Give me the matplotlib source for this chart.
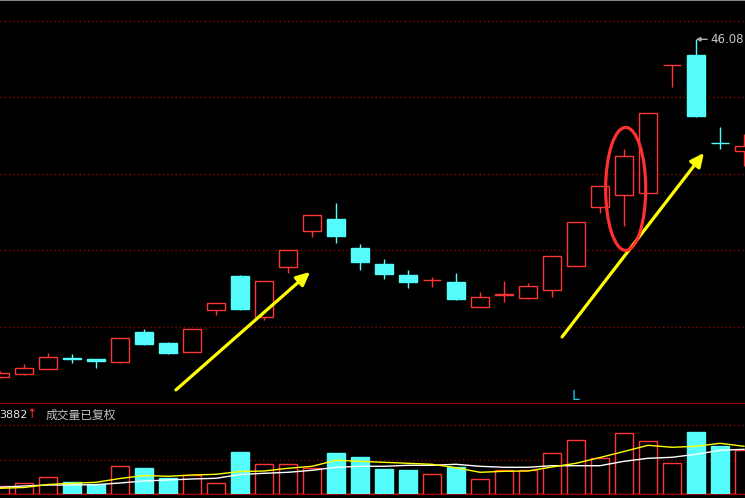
import matplotlib
matplotlib.use("Agg")
import matplotlib.pyplot as plt
from matplotlib.patches import Ellipse
from matplotlib.lines import Line2D
import numpy as np

# ---------------- data ----------------
opens  = [29.21, 29.36, 29.61, 30.13, 30.10, 29.96, 31.45, 30.90, 30.46, 32.56, 34.25, 32.21,
          34.71, 36.51, 37.10, 35.65, 34.85, 34.30, 34.02, 33.95, 32.71, 33.32, 33.16, 33.53,
          34.73, 37.71, 38.31, 38.41, 44.77, 45.30, 40.89, 40.51]
closes = [29.38, 29.63, 30.18, 30.12, 30.01, 31.13, 30.86, 30.41, 31.58, 32.88, 32.60, 33.99,
          35.53, 37.28, 36.25, 34.94, 34.35, 33.94, 34.03, 33.11, 33.18, 33.33, 33.73, 35.23,
          36.93, 38.73, 40.23, 42.38, 44.78, 42.25, 40.88, 40.74]
highs  = [29.50, 29.85, 30.40, 30.35, 30.12, 31.15, 31.60, 30.95, 31.58, 32.88, 34.28, 33.99,
          35.53, 37.28, 37.90, 35.85, 35.10, 34.55, 34.20, 34.40, 33.45, 34.00, 33.90, 35.23,
          36.93, 38.73, 40.59, 42.38, 44.78, 46.08, 41.68, 41.35]
lows   = [29.15, 29.30, 29.60, 29.91, 29.66, 29.91, 30.81, 30.36, 30.46, 32.31, 32.55, 32.05,
          34.41, 36.21, 35.91, 34.56, 34.11, 33.66, 33.71, 33.06, 32.71, 32.96, 33.11, 33.21,
          34.73, 37.41, 36.74, 38.41, 43.71, 42.20, 40.61, 39.76]
volumes = [8000, 10700, 17000, 12000, 10000, 28000, 26000, 16000, 19000, 11000, 42000, 30000,
           29700, 26000, 41000, 37000, 25000, 24000, 19700, 27000, 14700, 24000, 24000, 41000,
           53700, 35700, 61000, 52700, 30700, 62000, 48000, 44000]
vol_ma5 = [5700, 6500, 9500, 10700, 11700, 15500, 18500, 17700, 19000, 19700, 22500, 23000,
           25700, 27700, 33700, 32700, 31700, 30700, 29700, 26300, 21700, 22700, 23000, 27000,
           30700, 36500, 42500, 48700, 46700, 47700, 50700, 47700]
vol_ma10 = [6700, 8000, 9000, 9000, 9300, 11000, 13000, 14000, 15000, 15700, 19500, 20700,
            21700, 23700, 26700, 27700, 27700, 28700, 28700, 29700, 27700, 26700, 26700, 28300,
            28300, 28300, 32700, 35700, 36700, 39700, 43700, 44700]
price_grid = [47.00, 43.17, 39.35, 35.52, 31.70]
vol_grid = [34500, 69000]
vol_label = "3882"
vol_title = "成交量已复权"
# annotation arrows: (x_start, price_start, x_end, price_end)
arrow1 = (7.33, 28.55, 12.92, 34.45)
arrow2 = (23.42, 31.20, 29.33, 40.40)
# highlight ellipse: (x_center, price_center, width, height)
highlight = (26.07, 38.60, 1.67, 6.15)

RED = "#ff3535"
CYAN = "#54fcfc"
GRID = "#8a0000"
SEP = "#9a0000"

W, H = 745, 498
fig = plt.figure(figsize=(W / 100, H / 100), dpi=100, facecolor="black")

def axes_px(top, bottom):
    return fig.add_axes([0, (H - bottom) / H, 1, (bottom - top) / H])

ax1 = axes_px(1, 404)
ax2 = axes_px(404, 494)

n = len(opens)
x = np.arange(n)
o = np.array(opens); c = np.array(closes); hi = np.array(highs); lo = np.array(lows)
up = c >= o
body_lo = np.minimum(o, c)
body_hi = np.maximum(o, c)
bw = 0.74

for ax in (ax1, ax2):
    ax.set_facecolor("black")
    ax.set_xlim(0, W / 24)
    ax.set_xticks([])
    ax.tick_params(left=False, labelleft=False, bottom=False, labelbottom=False)
    for s in ("top", "left", "right"):
        ax.spines[s].set_visible(False)
    ax.spines["bottom"].set_color(SEP)
    ax.spines["bottom"].set_linewidth(1.6)

# price panel
ax1.set_ylim(27.845, 47.995)
ax1.set_yticks(price_grid)
ax1.grid(axis="y", color=GRID, linestyle=(0, (1, 2)), linewidth=1.0)
ax1.set_axisbelow(True)

colors = [RED if u else CYAN for u in up]
faces = ["black" if u else CYAN for u in up]
ax1.vlines(x, body_hi, hi, colors=colors, linewidth=1.0, zorder=2)
ax1.vlines(x, lo, body_lo, colors=colors, linewidth=1.0, zorder=2)
ax1.bar(x, np.maximum(body_hi - body_lo, 0.01), bottom=body_lo, width=bw,
        color=faces, edgecolor=colors, linewidth=1.0, zorder=3)

# max label
imax = int(np.argmax(hi))
ax1.annotate(f"{hi[imax]:.2f}", xy=(imax, hi[imax]), xytext=(imax + 0.58, hi[imax]),
             ha="left", va="center", color="#c8c8c8", fontsize=8.5,
             arrowprops=dict(arrowstyle="-|>", color="#b0b0b0", lw=1.0,
                             shrinkA=0, shrinkB=0, mutation_scale=6), zorder=5)

# yellow arrows
for (xs, ys, xe, ye) in (arrow1, arrow2):
    ax1.annotate("", xy=(xe, ye), xytext=(xs, ys),
                 arrowprops=dict(arrowstyle="-|>,head_length=0.8,head_width=0.38",
                                 color="#ffff00", lw=2.3, shrinkA=0, shrinkB=0),
                 zorder=6)

# ellipse
ax1.add_patch(Ellipse((highlight[0], highlight[1]), highlight[2], highlight[3],
                      fill=False, edgecolor="#ff3030", linewidth=2.3, zorder=6))

# volume panel
ax2.set_ylim(0, 90000)
ax2.set_yticks(vol_grid)
ax2.grid(axis="y", color=GRID, linestyle=(0, (1, 2)), linewidth=1.0)
ax2.set_axisbelow(True)
ax2.bar(x, volumes, width=bw, color=faces, edgecolor=colors, linewidth=1.0, zorder=3)
ax2.plot(x, vol_ma10, color="white", linewidth=1.0, zorder=4)
ax2.plot(x, vol_ma5, color="#ffff00", linewidth=1.0, zorder=5)

# texts
def fx(px): return px / W
def fy(py): return 1 - py / H

fig.text(fx(-1), fy(415), vol_label, color="#e6e6e6", fontsize=8, ha="left", va="center",
         family="DejaVu Sans")
fig.text(fx(32), fy(414), "↑", color="#ff3030", fontsize=9, ha="center", va="center",
         family="DejaVu Sans")
fig.text(fx(46), fy(415), vol_title, color="#c4c4c4", fontsize=8.5, ha="left", va="center",
         family=["Noto Sans CJK SC", "DejaVu Sans"])
fig.text(fx(572), fy(396), "L", color="#1ad0f5", fontsize=10, ha="left", va="center",
         family="DejaVu Sans")

# top border
fig.add_artist(Line2D([0, 1], [fy(0.5), fy(0.5)], color="#a0a0a0", linewidth=1.2,
                      transform=fig.transFigure))

fig.savefig("out.png", dpi=100, facecolor="black")
